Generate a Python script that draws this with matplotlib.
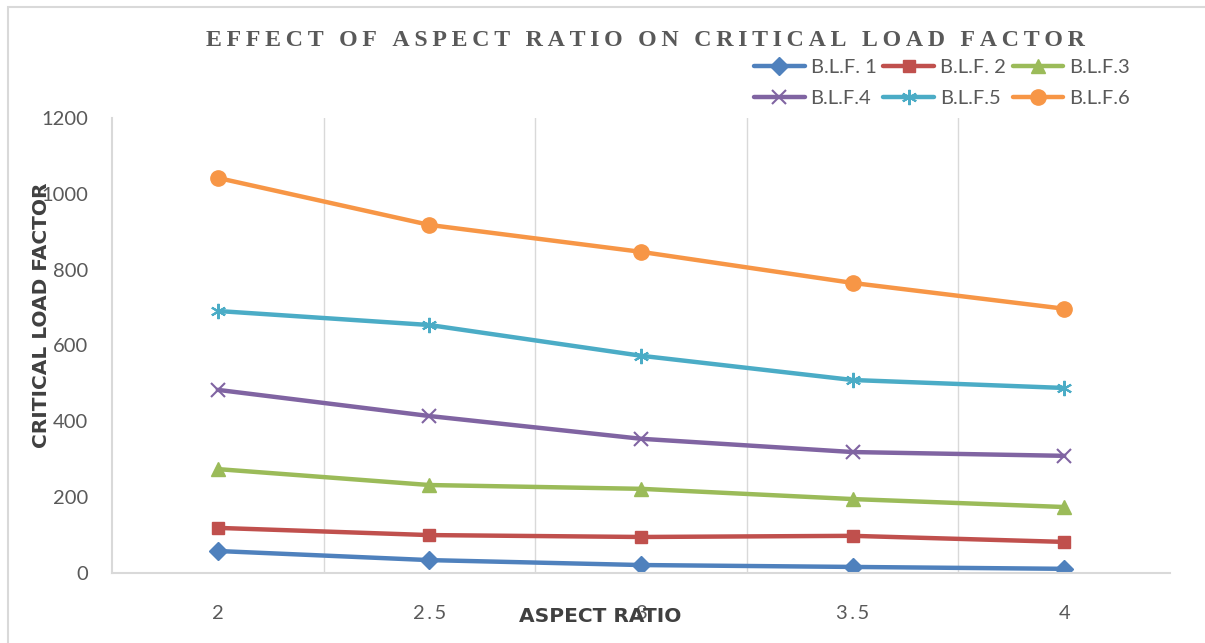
import matplotlib.pyplot as plt
from matplotlib.patches import Rectangle

# dados
aspect_ratio = ["2", "2.5", "3", "3.5", "4"]
blf1 = [58, 34, 21, 16, 11]
blf2 = [119, 100, 95, 98, 82]
blf3 = [274, 232, 222, 195, 174]
blf4 = [483, 414, 354, 319, 309]
blf5 = [691, 654, 573, 509, 488]
blf6 = [1042, 918, 847, 765, 697]

series = [
    ("B.L.F. 1", blf1, "#4F81BD", "D", 9),
    ("B.L.F. 2", blf2, "#C0504D", "s", 9),
    ("B.L.F.3", blf3, "#9BBB59", "^", 10),
    ("B.L.F.4", blf4, "#8064A2", "x", 10),
    ("B.L.F.5", blf5, "#4BACC6", (6, 2, 0), 11),
    ("B.L.F.6", blf6, "#F79646", "o", 11),
]

fig = plt.figure(figsize=(12.05, 6.43), dpi=100)
fig.patches.append(Rectangle((8 / 1205, -0.01), 1.1, (643 - 7) / 643 + 0.01,
                             transform=fig.transFigure, fill=False,
                             edgecolor="#D9D9D9", linewidth=1.5))

ax = fig.add_axes([112 / 1205, (643 - 573) / 643, (1170 - 112) / 1205, 455 / 643])
x = range(len(aspect_ratio))
handles = []
for name, vals, color, marker, ms in series:
    mew = 1.5 if marker in ("x",) or isinstance(marker, tuple) else 1
    h, = ax.plot(x, vals, color=color, linewidth=3.2, marker=marker, markersize=ms,
                 markeredgewidth=mew, markerfacecolor=color, markeredgecolor=color,
                 label=name, solid_capstyle="round")
    handles.append(h)

ax.set_xlim(-0.5, len(aspect_ratio) - 0.5)
ax.set_ylim(0, 1200)
ax.set_yticks(range(0, 1201, 200))
ax.set_xticks(list(x))
ax.set_xticklabels(["\u2009".join(l) for l in aspect_ratio])
for b in [i + 0.5 for i in range(len(aspect_ratio) - 1)]:
    ax.axvline(b, color="#D9D9D9", linewidth=1, zorder=0)
ax.tick_params(length=0, labelsize=14.5, labelcolor="#595959")
for lab in ax.get_xticklabels() + ax.get_yticklabels():
    lab.set_family("Lato")
ax.tick_params(axis="x", pad=23)
ax.tick_params(axis="y", pad=17)
for s in ["top", "right"]:
    ax.spines[s].set_visible(False)
for s in ["left", "bottom"]:
    ax.spines[s].set_color("#D9D9D9")
    ax.spines[s].set_linewidth(1.5)

fig.text(42 / 1205, 1 - 315 / 643, "CRITICAL LOAD FACTOR", rotation=90,
         ha="center", va="center", fontsize=14.5, fontweight="bold", color="#404040")
fig.text(600 / 1205, 1 - 616 / 643, "ASPECT RATIO", ha="center", va="center",
         fontsize=14.5, fontweight="bold", color="#404040")
fig.text(645 / 1205, 1 - 40 / 643, "\u2009".join("EFFECT OF ASPECT RATIO ON CRITICAL LOAD FACTOR"),
         ha="center", va="center", fontsize=17.2, fontweight="heavy",
         family="Liberation Serif", color="#595959")

# ordem por linha, como no Excel
order = [0, 3, 1, 4, 2, 5]
leg = fig.legend([handles[i] for i in order], [series[i][0] for i in order],
                 loc="center", bbox_to_anchor=(942 / 1205, 1 - 83 / 643), ncol=3,
                 frameon=False, prop={"family": "Lato", "size": 14.5}, labelcolor="#595959",
                 handlelength=2.5, handletextpad=0.3, columnspacing=0.35, labelspacing=0.7)

fig.savefig("out.png", dpi=100)
